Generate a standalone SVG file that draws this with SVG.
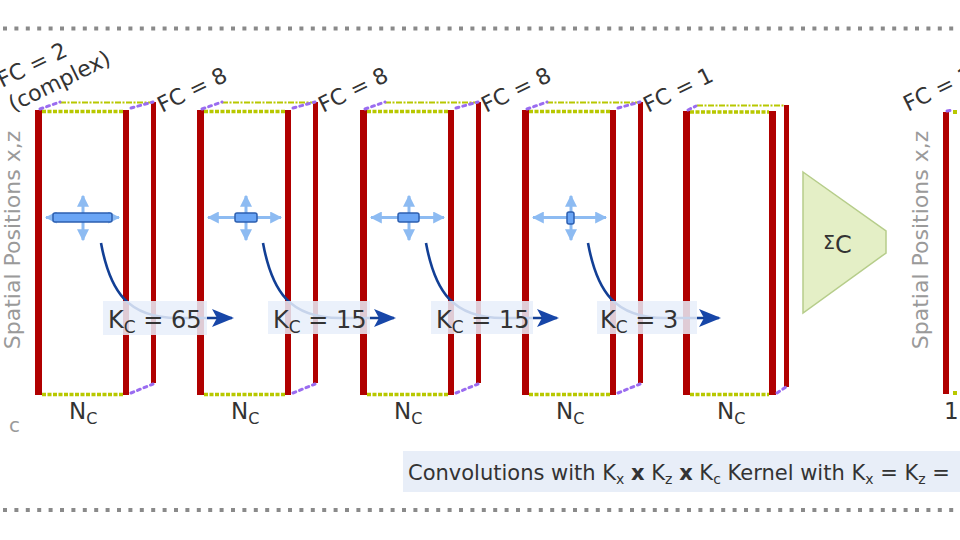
<svg xmlns="http://www.w3.org/2000/svg" width="960" height="540" viewBox="0 0 960 540">
<style>
text{font-family:"DejaVu Sans",Verdana,sans-serif;fill:#333}
.bar{fill:#b00000}
.gdot{stroke:#b8c800;stroke-width:3.5;stroke-dasharray:4 1.5;fill:none}
.gdot2{stroke:#b8c800;stroke-width:2;stroke-dasharray:6 1.5 2 1.5;fill:none}
.pdot{stroke:#9a6cf0;stroke-width:3;stroke-dasharray:3 4;stroke-linecap:round;fill:none}
.border{stroke:#8a8a8a;stroke-width:4;stroke-dasharray:4 7.4;fill:none}
.lb{stroke:#8dbbf2;stroke-width:3;fill:none}
.kern{fill:#6aa5f5;stroke:#2d5fb0;stroke-width:1.5}
.curve{stroke:#123f95;stroke-width:2.6;fill:none}
.box{fill:#e8eefa;opacity:0.85}
.fc{font-size:22px}
.gray{fill:#9a9a9a}
</style>
<defs>
<marker id="lah" viewBox="0 0 10 10" refX="9" refY="5" markerWidth="4" markerHeight="4" orient="auto-start-reverse" markerUnits="strokeWidth">
<path d="M0,0 L10,5 L0,10 z" fill="#8dbbf2"/>
</marker>
<marker id="bah" viewBox="0 0 22 18" refX="20" refY="9" markerWidth="22" markerHeight="18" orient="auto" markerUnits="userSpaceOnUse">
<path d="M0,0 L22,9 L0,18 L5,9 z" fill="#1746a8"/>
</marker>
</defs>

<line class="border" x1="3" y1="28.5" x2="960" y2="28.5"/>
<line class="border" x1="3" y1="510" x2="960" y2="510"/>

<text class="gray" transform="translate(20,240) rotate(-90)" text-anchor="middle" font-size="22">Spatial Positions x,z</text>
<text class="gray" x="9" y="432" font-size="20">c</text>

<g id="block1" transform="translate(35,0)">
<rect class="bar" x="0" y="110" width="7" height="285"/>
<rect class="bar" x="88" y="110" width="6" height="285"/>
<rect class="bar" x="116" y="102" width="5" height="281"/>
<line class="gdot2" x1="25" y1="102.5" x2="116" y2="102.5"/>
<line class="gdot" x1="7" y1="111.5" x2="88" y2="111.5"/>
<line class="pdot" x1="5" y1="109" x2="25" y2="102"/>
<line class="pdot" x1="96" y1="108" x2="118" y2="102"/>
<line class="gdot" x1="7" y1="394.5" x2="88" y2="394.5"/>
<line class="pdot" x1="96" y1="393" x2="118" y2="384"/>
<line class="lb" x1="11" y1="217.5" x2="84" y2="217.5" marker-start="url(#lah)" marker-end="url(#lah)"/>
<line class="lb" x1="48" y1="196" x2="48" y2="240" marker-start="url(#lah)" marker-end="url(#lah)"/>
<rect class="kern" x="18" y="213" width="59" height="9" rx="2"/>
<text x="34" y="419" font-size="23">N<tspan font-size="16" dy="5">C</tspan></text>
<text class="fc" transform="translate(-33,88) rotate(-26)">FC = 2</text>
<text class="fc" transform="translate(-22,112) rotate(-26)">(complex)</text>
<text class="fc" transform="translate(127,113) rotate(-26)">FC = 8</text>
</g>

<g id="block2" transform="translate(197,0)">
<rect class="bar" x="0" y="110" width="7" height="285"/>
<rect class="bar" x="88" y="110" width="6" height="285"/>
<rect class="bar" x="116" y="102" width="5" height="281"/>
<line class="gdot2" x1="25" y1="102.5" x2="116" y2="102.5"/>
<line class="gdot" x1="7" y1="111.5" x2="88" y2="111.5"/>
<line class="pdot" x1="5" y1="109" x2="25" y2="102"/>
<line class="pdot" x1="96" y1="108" x2="118" y2="102"/>
<line class="gdot" x1="7" y1="394.5" x2="88" y2="394.5"/>
<line class="pdot" x1="96" y1="393" x2="118" y2="384"/>
<line class="lb" x1="11" y1="217.5" x2="84" y2="217.5" marker-start="url(#lah)" marker-end="url(#lah)"/>
<line class="lb" x1="49" y1="196" x2="49" y2="240" marker-start="url(#lah)" marker-end="url(#lah)"/>
<rect class="kern" x="38" y="213" width="22" height="9" rx="2"/>
<text x="34" y="419" font-size="23">N<tspan font-size="16" dy="5">C</tspan></text>
<text class="fc" transform="translate(126,113) rotate(-26)">FC = 8</text>
</g>

<g id="block3" transform="translate(360,0)">
<rect class="bar" x="0" y="110" width="7" height="285"/>
<rect class="bar" x="88" y="110" width="6" height="285"/>
<rect class="bar" x="116" y="102" width="5" height="281"/>
<line class="gdot2" x1="25" y1="102.5" x2="116" y2="102.5"/>
<line class="gdot" x1="7" y1="111.5" x2="88" y2="111.5"/>
<line class="pdot" x1="5" y1="109" x2="25" y2="102"/>
<line class="pdot" x1="96" y1="108" x2="118" y2="102"/>
<line class="gdot" x1="7" y1="394.5" x2="88" y2="394.5"/>
<line class="pdot" x1="96" y1="393" x2="118" y2="384"/>
<line class="lb" x1="11" y1="217.5" x2="84" y2="217.5" marker-start="url(#lah)" marker-end="url(#lah)"/>
<line class="lb" x1="49" y1="196" x2="49" y2="240" marker-start="url(#lah)" marker-end="url(#lah)"/>
<rect class="kern" x="38" y="213" width="21" height="9" rx="2"/>
<text x="34" y="419" font-size="23">N<tspan font-size="16" dy="5">C</tspan></text>
<text class="fc" transform="translate(126,113) rotate(-26)">FC = 8</text>
</g>

<g id="block4" transform="translate(522,0)">
<rect class="bar" x="0" y="110" width="7" height="285"/>
<rect class="bar" x="88" y="110" width="6" height="285"/>
<rect class="bar" x="116" y="102" width="5" height="281"/>
<line class="gdot2" x1="25" y1="102.5" x2="116" y2="102.5"/>
<line class="gdot" x1="7" y1="111.5" x2="88" y2="111.5"/>
<line class="pdot" x1="5" y1="109" x2="25" y2="102"/>
<line class="pdot" x1="96" y1="108" x2="118" y2="102"/>
<line class="gdot" x1="7" y1="394.5" x2="88" y2="394.5"/>
<line class="pdot" x1="96" y1="393" x2="118" y2="384"/>
<line class="lb" x1="11" y1="217.5" x2="84" y2="217.5" marker-start="url(#lah)" marker-end="url(#lah)"/>
<line class="lb" x1="49" y1="196" x2="49" y2="240" marker-start="url(#lah)" marker-end="url(#lah)"/>
<rect class="kern" x="45" y="212" width="7" height="12" rx="2"/>
<text x="34" y="419" font-size="23">N<tspan font-size="16" dy="5">C</tspan></text>
<text class="fc" transform="translate(126,113) rotate(-26)">FC = 1</text>
</g>

<g id="block5" transform="translate(683,0)">
<rect class="bar" x="0" y="111" width="7" height="284"/>
<rect class="bar" x="86" y="111" width="7" height="284"/>
<rect class="bar" x="101" y="105" width="5" height="282"/>
<line class="gdot2" x1="14" y1="105.5" x2="101" y2="105.5"/>
<line class="gdot" x1="7" y1="112" x2="86" y2="112"/>
<line class="pdot" x1="5" y1="110" x2="13" y2="106"/>
<line class="gdot" x1="7" y1="394.5" x2="86" y2="394.5"/>
<line class="pdot" x1="94" y1="393" x2="103" y2="387"/>
<text x="34" y="419" font-size="23">N<tspan font-size="16" dy="5">C</tspan></text>
</g>

<g id="sum">
<polygon points="803,172 886,231 886,253 803,313" fill="#e4efc6" stroke="#b6cd8a" stroke-width="1.5"/>
<text x="823" y="249" font-size="19">Σ<tspan font-size="24" dy="4">C</tspan></text>
</g>

<g id="output">
<text class="gray" transform="translate(928,240) rotate(-90)" text-anchor="middle" font-size="22">Spatial Positions x,z</text>
<rect class="bar" x="943" y="112" width="6" height="282"/>
<rect x="953" y="110" width="4" height="4" fill="#b8c800"/>
<rect x="953" y="391" width="4" height="4" fill="#b8c800"/>
<line class="pdot" x1="947" y1="111" x2="953" y2="110"/>
<text class="fc" transform="translate(908,112) rotate(-26)">FC = 1</text>
<text x="944" y="419" font-size="23">1</text>
</g>

<g id="connectors">
<path class="curve" d="M101,243 C110,292 128,318 178,318 L232,318" marker-end="url(#bah)"/>
<path class="curve" d="M263,243 C272,292 290,318 340,318 L394,318" marker-end="url(#bah)"/>
<path class="curve" d="M426,243 C435,292 453,318 503,318 L557,318" marker-end="url(#bah)"/>
<path class="curve" d="M588,243 C597,292 615,318 665,318 L719,318" marker-end="url(#bah)"/>
</g>

<g id="label1">
<rect class="box" x="103" y="301" width="104" height="34"/>
<text x="108" y="328" font-size="24">K<tspan font-size="17" dy="5">C</tspan><tspan dy="-5"> = 65</tspan></text>
</g>
<g id="label2">
<rect class="box" x="268" y="301" width="102" height="33"/>
<text x="273" y="328" font-size="24">K<tspan font-size="17" dy="5">C</tspan><tspan dy="-5"> = 15</tspan></text>
</g>
<g id="label3">
<rect class="box" x="431" y="301" width="102" height="33"/>
<text x="436" y="328" font-size="24">K<tspan font-size="17" dy="5">C</tspan><tspan dy="-5"> = 15</tspan></text>
</g>
<g id="label4">
<rect class="box" x="597" y="301" width="100" height="33"/>
<text x="600" y="328" font-size="24">K<tspan font-size="17" dy="5">C</tspan><tspan dy="-5"> = 3</tspan></text>
</g>

<g id="caption">
<rect x="403" y="451" width="557" height="41" fill="#e8eef8"/>
<text x="408" y="480" font-size="21">Convolutions with K<tspan font-size="14" dy="4">x</tspan> <tspan font-weight="bold" dy="-4">x</tspan> K<tspan font-size="14" dy="4">z</tspan> <tspan font-weight="bold" dy="-4">x</tspan> K<tspan font-size="14" dy="4">c</tspan><tspan dy="-4"> Kernel with K</tspan><tspan font-size="14" dy="4">x</tspan><tspan dy="-4"> = K</tspan><tspan font-size="14" dy="4">z</tspan><tspan dy="-4"> =</tspan></text>
</g>
</svg>
